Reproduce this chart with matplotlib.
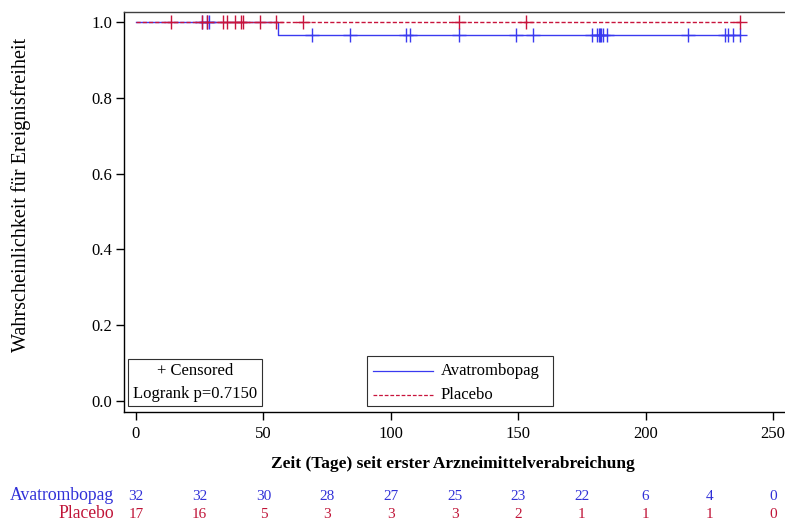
import numpy as np
import matplotlib
matplotlib.use("Agg")
import matplotlib.pyplot as plt
from matplotlib.lines import Line2D

plt.rcParams['font.family'] = ['Liberation Serif', 'DejaVu Serif']

# Event / censoring times (days)
ava_events = [55.6]
ava_censored = [25.8, 27.7, 28.8, 68.9, 84.0, 105.8, 107.5, 126.9, 149.0, 155.9,
                179.1, 179.1, 180.8, 180.8, 181.6, 181.6, 182.1, 182.1, 182.6, 182.6,
                183.1, 183.1, 184.7, 184.7, 180.8, 182.1,
                216.8, 216.8, 231.2, 232.5, 234.2, 237.0]
pla_events = []
pla_censored = [13.7, 26.0, 28.0, 34.0, 35.8, 38.9, 41.1, 41.9, 41.9, 48.7, 48.7, 48.7,
                54.8, 65.7, 126.9, 152.9, 237.0]

risk_times = [0, 25, 50, 75, 100, 125, 150, 175, 200, 225, 250]
ava_at_risk = [32, 32, 30, 28, 27, 25, 23, 22, 6, 4, 0]
pla_at_risk = [17, 16, 5, 3, 3, 3, 2, 1, 1, 1, 0]

x_ticks = [0, 50, 100, 150, 200, 250]
y_ticks = [0.0, 0.2, 0.4, 0.6, 0.8, 1.0]

BLUE = '#3a3af0'
RED = '#c8143c'
BLUE_TXT = '#3030d8'
RED_TXT = '#c01438'


def kaplan_meier(events, censored):
    times = sorted(set(events) | set(censored))
    n = len(events) + len(censored)
    s = 1.0
    xs, ys = [0.0], [1.0]
    cens_pts = []
    for t in times:
        d = events.count(t)
        c = censored.count(t)
        if d:
            xs.append(t); ys.append(s)
            s *= (1 - d / n)
            xs.append(t); ys.append(s)
        if c:
            cens_pts.append((t, s))
        n -= d + c
    xs.append(max(times)); ys.append(s)
    return xs, ys, cens_pts


W, H = 785, 521
fig = plt.figure(figsize=(W / 100, H / 100), dpi=100)
ax = fig.add_axes([124 / W, 1 - 412 / H, (W + 2 - 124) / W, (412 - 12) / H])

x0, x1 = 136, 773
ppd = (x1 - x0) / 250
ax.set_xlim((124 - x0) / ppd, (W + 2 - x0) / ppd)
y0, y1 = 401, 22
ppy = (y0 - y1)
ax.set_ylim(-(412 - y0) / ppy, 1 + (y1 - 12) / ppy)

for ev, ce, col, ls in [(ava_events, ava_censored, BLUE, '-'),
                        (pla_events, pla_censored, RED, (0, (3, 1.5)))]:
    xs, ys, cp = kaplan_meier(ev, ce)
    ax.plot(xs, ys, color=col, lw=1.0, ls=ls, zorder=3)
    cx = [p[0] for p in cp]
    cy = [p[1] for p in cp]
    ax.plot(cx, cy, ls='none', marker='+', ms=10, mew=1.0, color=col, zorder=4)

ax.spines['right'].set_visible(False)
ax.spines['top'].set_color('#404040')
for sp in ['left', 'bottom', 'top']:
    ax.spines[sp].set_linewidth(1.0)

ax.set_xticks(x_ticks)
ax.set_yticks(y_ticks)
ax.set_yticklabels([f'{v:.1f}' for v in y_ticks])
ax.tick_params(axis='both', labelsize=12, length=6, width=1, direction='out')
ax.tick_params(axis='x', pad=4)
ax.tick_params(axis='y', pad=2.5)

fig.text(453 / W, 1 - 464 / H, 'Zeit (Tage) seit erster Arzneimittelverabreichung',
         ha='center', va='center', fontsize=12.5, fontweight='bold')
fig.text(21 / W, 1 - 195 / H, 'Wahrscheinlichkeit für Ereignisfreiheit',
         ha='center', va='center', rotation=90, fontsize=14.5)

# Censored / log-rank box
bx0, by0, bx1, by1 = 128, 359, 262, 406
fig.patches.append(plt.Rectangle((bx0 / W, 1 - by1 / H), (bx1 - bx0) / W, (by1 - by0) / H,
                                 transform=fig.transFigure, fill=False, lw=0.8,
                                 ec='#303030', zorder=5))
fig.text((bx0 + bx1) / 2 / W, 1 - 371 / H, '+ Censored', ha='center', va='center', fontsize=12)
fig.text((bx0 + bx1) / 2 / W, 1 - 394 / H, 'Logrank p=0.7150', ha='center', va='center', fontsize=12)

# Group legend box
lx0, ly0, lx1, ly1 = 367, 356, 553, 406
fig.patches.append(plt.Rectangle((lx0 / W, 1 - ly1 / H), (lx1 - lx0) / W, (ly1 - ly0) / H,
                                 transform=fig.transFigure, fill=False, lw=0.8,
                                 ec='#303030', zorder=5))
for yy, col, ls, lab in [(371, BLUE, '-', 'Avatrombopag'), (395, RED, (0, (3, 1.5)), 'Placebo')]:
    fig.add_artist(Line2D([373 / W, 433 / W], [1 - yy / H, 1 - yy / H], color=col,
                          lw=0.9, ls=ls, transform=fig.transFigure))
    fig.text(441 / W, 1 - yy / H, lab, ha='left', va='center', fontsize=12)

# Number at risk table
for yy, lab, vals, col in [(496, 'Avatrombopag', ava_at_risk, BLUE_TXT),
                           (514, 'Placebo', pla_at_risk, RED_TXT)]:
    fig.text(114 / W, 1 - yy / H, lab, ha='right', va='center', fontsize=12.7, color=col)
    for t, v in zip(risk_times, vals):
        fig.text((x0 + t * ppd) / W, 1 - yy / H, str(v), ha='center', va='center',
                 fontsize=11, color=col)

fig.savefig('out.png', dpi=100)
